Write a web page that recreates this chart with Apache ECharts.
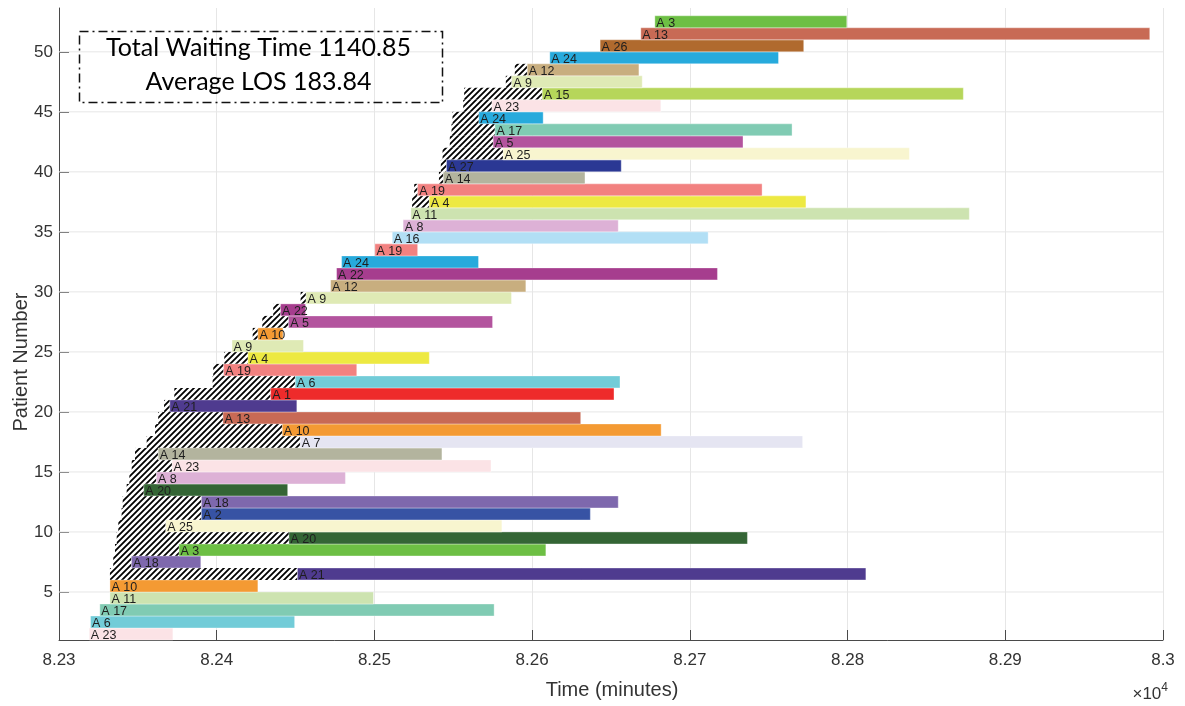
<!DOCTYPE html>
<html><head><meta charset="utf-8">
<script src="https://cdn.jsdelivr.net/npm/echarts@6/dist/echarts.min.js"></script>
<style>html,body{margin:0;padding:0;background:#fff}#c{width:1185px;height:706px}</style>
</head><body><div id="c"></div>
<script>
// ---- data ----
const patients = [1,2,3,4,5,6,7,8,9,10,11,12,13,14,15,16,17,18,19,20,21,22,23,24,25,26,27,28,29,30,31,32,33,34,35,36,37,38,39,40,41,42,43,44,45,46,47,48,49,50,51,52];
const resources = [23,6,17,11,10,21,18,3,20,25,2,18,20,8,23,14,7,10,13,21,1,6,19,4,9,10,5,22,9,12,22,24,19,16,8,11,4,19,14,27,25,5,17,24,23,15,9,12,24,26,13,3];
const arrival = [82319.2,82320.0,82325.9,82332.3,82332.3,82332.3,82334.4,82335.5,82336.6,82337.6,82339.7,82340.4,82342.9,82344.6,82346.1,82348.2,82355.6,82360.9,82362.9,82366.6,82373.1,82397.4,82397.8,82404.8,82409.7,82422.8,82428.9,82435.8,82453.2,82472.2,82476.0,82479.2,82500.3,82511.3,82518.2,82523.1,82523.9,82525.2,82540.9,82542.1,82543.2,82547.8,82548.9,82549.5,82556.3,82556.9,82583.3,82589.0,82611.2,82643.1,82668.9,82677.8];
const serviceStart = [82319.2,82320.0,82325.9,82332.3,82332.3,82451.2,82346.0,82376.1,82445.8,82367.7,82390.3,82390.3,82353.8,82361.8,82371.7,82362.9,82453.0,82441.6,82404.0,82370.3,82434.2,82449.8,82404.4,82419.8,82409.7,82426.1,82445.6,82440.5,82456.6,82472.2,82476.0,82479.2,82500.3,82511.3,82518.2,82523.1,82534.8,82527.4,82543.7,82545.7,82581.6,82575.3,82576.4,82566.2,82574.5,82606.4,82587.0,82596.9,82611.2,82643.1,82668.9,82677.8];
const serviceEnd = [82372.2,82449.4,82575.9,82499.4,82426.1,82811.6,82389.9,82608.7,82736.5,82580.8,82636.9,82654.6,82445.0,82481.6,82573.9,82542.8,82771.5,82681.8,82630.8,82450.8,82651.9,82655.7,82488.8,82534.8,82455.0,82442.0,82574.9,82456.3,82586.9,82596.0,82717.5,82566.0,82527.4,82711.6,82654.6,82877.2,82773.6,82745.8,82633.5,82656.5,82839.2,82733.7,82764.8,82607.0,82681.6,82873.4,82669.8,82667.7,82756.2,82772.2,82991.6,82799.5];
const xTicks = [82300,82400,82500,82600,82700,82800,82900,83000];
const yTicks = [5,10,15,20,25,30,35,40,45,50];
const resourceColors = {
  1:'#ee2b2b',2:'#3753a4',3:'#6dbf44',4:'#ede942',5:'#b3549e',6:'#72ccd8',7:'#e5e5f2',
  8:'#ddb1d6',9:'#dfeab5',10:'#f49a33',11:'#cde3b0',12:'#c8ae7f',13:'#c86a55',14:'#b3b49e',
  15:'#b6d65a',16:'#b2dff5',17:'#80cbb3',18:'#7e68ad',19:'#f28180',20:'#346535',21:'#4f3b8f',
  22:'#a63d8e',23:'#fbe3e6',24:'#27aadc',25:'#f8f5cf',26:'#b06a2e',27:'#2b3894'
};
const totalWaiting = '1140.85';
const averageLOS = '183.84';

// ---- hatch pattern ----
const pc = document.createElement('canvas'); pc.width = 6; pc.height = 6;
const g = pc.getContext('2d');
g.fillStyle = '#fff'; g.fillRect(0,0,6,6);
g.strokeStyle = '#000'; g.lineWidth = 1.8;
g.beginPath();
g.moveTo(-1,7); g.lineTo(7,-1);
g.moveTo(-4,4); g.lineTo(4,-4);
g.moveTo(2,10); g.lineTo(10,2);
g.stroke();

const chart = echarts.init(document.getElementById('c'), null, {renderer:'canvas'});

const hatchData = patients.map((p,i)=>[arrival[i], serviceStart[i], p]);
const barData = patients.map((p,i)=>[serviceStart[i], serviceEnd[i], p]);

const X0 = xTicks[0], X1 = xTicks[xTicks.length-1];
const FF = '"Liberation Sans", Arial, sans-serif';

chart.setOption({
  animation:false,
  grid:{left:59, right:22, top:8, bottom:66},
  xAxis:{
    type:'value', min:X0, max:X1, interval:100,
    axisLine:{show:true, onZero:false, lineStyle:{color:'#4a4a4a', width:1}},
    axisTick:{show:true, inside:true, length:10, lineStyle:{color:'#4a4a4a'}},
    axisLabel:{fontSize:17, color:'#333', margin:12, fontFamily:FF,
      formatter:v=>String(+(v/10000).toFixed(2))},
    splitLine:{show:true, lineStyle:{color:'#e6e6e6', width:1}}
  },
  yAxis:{
    type:'value', min:1, max:53.65,
    axisLine:{show:true, onZero:false, lineStyle:{color:'#4a4a4a', width:1}},
    axisTick:{show:true, inside:true, length:10, customValues:yTicks, lineStyle:{color:'#4a4a4a'}},
    axisLabel:{fontSize:17, color:'#333', margin:6, fontFamily:FF, customValues:yTicks},
    splitLine:{show:false}
  },
  series:[
    { // horizontal grid lines
      type:'custom', z:1, silent:true,
      data: yTicks.map(v=>[v]),
      renderItem:(params, api)=>{
        const v = api.value(0);
        const a = api.coord([X0, v]), b = api.coord([X1, v]);
        return {type:'line', shape:{x1:a[0], y1:a[1], x2:b[0], y2:b[1]}, style:{stroke:'#e6e6e6', lineWidth:1}};
      }
    },
    { // waiting (hatched)
      type:'custom', z:2, silent:true,
      data: hatchData,
      renderItem:(params, api)=>{
        const a = api.value(0), s = api.value(1), p = api.value(2);
        if (s - a <= 0.05) return null;
        const p0 = api.coord([a, p+1]), p1 = api.coord([s, p]);
        return {type:'rect', shape:{x:p0[0], y:p0[1], width:p1[0]-p0[0], height:p1[1]-p0[1]},
          style:{fill:{image:pc, repeat:'repeat'}}};
      }
    },
    { // service bars
      type:'custom', z:3, silent:true,
      data: barData,
      renderItem:(params, api)=>{
        const s = api.value(0), e = api.value(1), p = api.value(2);
        const p0 = api.coord([s, p+1]), p1 = api.coord([e, p]);
        const col = resourceColors[resources[params.dataIndex]];
        return {type:'rect', shape:{x:p0[0], y:p0[1], width:p1[0]-p0[0], height:p1[1]-p0[1]},
          style:{fill:col, stroke:'rgba(255,255,255,0.35)', lineWidth:1}};
      }
    },
    { // labels
      type:'custom', z:4, silent:true,
      data: barData,
      renderItem:(params, api)=>{
        const s = api.value(0), p = api.value(2);
        const pt = api.coord([s, p+0.5]);
        return {type:'text', x:pt[0]+1.5, y:pt[1]+1.5,
          style:{text:'A ' + resources[params.dataIndex], fill:'#1e1e1e', fontSize:12.5,
            fontFamily:FF, align:'left', verticalAlign:'middle'}};
      }
    }
  ],
  graphic:[
    {type:'rect', left:77, top:29, shape:{width:363, height:71},
      style:{fill:'none', stroke:'#111', lineWidth:1.5, lineDash:[9,4,2,4]}, z:10},
    {type:'text', x:258.5, y:48, style:{text:'Total Waiting Time ' + totalWaiting, fontSize:25,
      fontFamily:'Lato, "Open Sans", sans-serif', fill:'#000', align:'center', verticalAlign:'middle'}, z:10},
    {type:'text', x:258.5, y:82, style:{text:'Average LOS ' + averageLOS, fontSize:25,
      fontFamily:'Lato, "Open Sans", sans-serif', fill:'#000', align:'center', verticalAlign:'middle'}, z:10},
    {type:'text', x:612, y:690, style:{text:'Time (minutes)', fontSize:20, fill:'#333',
      fontFamily:FF, align:'center', verticalAlign:'middle'}},
    {type:'text', x:21, y:362, rotation:Math.PI/2, style:{text:'Patient Number', fontSize:20, fill:'#333',
      fontFamily:FF, align:'center', verticalAlign:'middle'}},
    {type:'text', x:1168, y:694, style:{text:'×10{s|4}', fontSize:17, fill:'#333',
      fontFamily:FF, align:'right', verticalAlign:'middle',
      rich:{s:{fontSize:12, fill:'#333', verticalAlign:'bottom', padding:[0,0,12,0], fontFamily:FF}}}}
  ]
});
</script></body></html>
